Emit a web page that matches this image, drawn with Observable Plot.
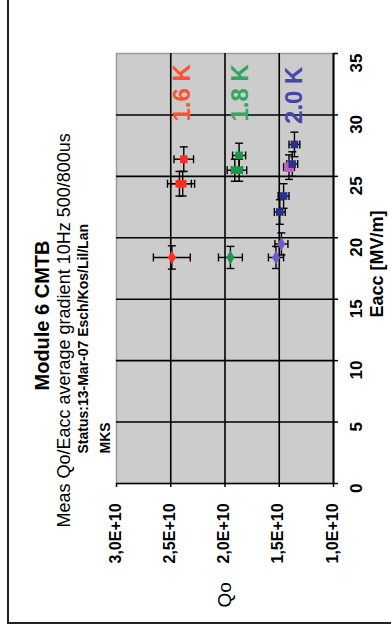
<!DOCTYPE html>
<html><head><meta charset="utf-8">
<script src="https://cdn.jsdelivr.net/npm/d3@7"></script>
<script src="https://cdn.jsdelivr.net/npm/@observablehq/plot@0.6"></script>
<style>
html,body{margin:0;padding:0;background:#fff;}
#wrap{position:relative;width:391px;height:639px;overflow:hidden;}
#border{position:absolute;left:7px;top:-4px;width:400px;height:626px;border-left:2px solid #222;border-bottom:2px solid #222;}
#chart{position:absolute;left:0;top:0;}
</style></head><body>
<div id="wrap"><div id="border"></div><div id="chart"></div></div>
<script>
// ---- texts ----
const titleMain = "Module 6 CMTB";
const titleSub = "Meas Qo/Eacc average gradient 10Hz 500/800us";
const titleStatus = "Status:13-Mar-07 Esch/Kos/Lil/Lan";
const titleOrg = "MKS";
const xTitle = "Qo";
const yTitle = "Eacc [MV/m]";

// ---- axes ----
const qoTicks = [1.0e10, 1.5e10, 2.0e10, 2.5e10, 3.0e10];
const qoTickLabels = ["1,0E+10", "1,5E+10", "2,0E+10", "2,5E+10", "3,0E+10"];
const eaccTicks = [0, 5, 10, 15, 20, 25, 30, 35];
const eaccTickLabels = ["0", "5", "10", "15", "20", "25", "30", "35"];

// ---- series labels ----
const seriesNames = ["1.6 K", "1.8 K", "2.0 K"];
const labelEacc = [31.8, 31.8, 31.6];
const labelQo = [2.39e10, 1.86e10, 1.36e10];

// ---- measured points ----
const pointSet = ["1.6 K","1.6 K","1.6 K","1.6 K",
                  "1.8 K","1.8 K","1.8 K","1.8 K",
                  "2.0 K a","2.0 K a","2.0 K","2.0 K","2.0 K b","2.0 K","2.0 K"];
const pointShape = ["diamond","square","square","square",
                    "diamond","square","square","square",
                    "diamond","diamond","square","square","square","square","square"];
const pointEacc = [18.4, 26.4, 24.4, 24.4,
                   18.4, 26.7, 25.5, 25.5,
                   18.4, 19.5, 22.1, 23.4, 25.75, 26.0, 27.6];
const pointQo = [2.49e10, 2.38e10, 2.42e10, 2.39e10,
                 1.95e10, 1.87e10, 1.91e10, 1.87e10,
                 1.53e10, 1.48e10, 1.495e10, 1.46e10, 1.41e10, 1.38e10, 1.36e10];
const errEacc = [0.95, 1.0, 1.0, 1.0,
                 0.9, 1.0, 0.9, 0.9,
                 0.9, 0.9, 1.0, 1.0, 1.0, 1.0, 1.0];
const errQo = [0.17e10, 0.09e10, 0.11e10, 0.11e10,
               0.11e10, 0.06e10, 0.07e10, 0.07e10,
               0.07e10, 0.06e10, 0.05e10, 0.05e10, 0.05e10, 0.05e10, 0.05e10];

const points = pointEacc.map((e, i) => ({
  set: pointSet[i], shape: pointShape[i], eacc: e, qo: pointQo[i], dE: errEacc[i], dQ: errQo[i]
}));
const labels = seriesNames.map((s, i) => ({name: s, eacc: labelEacc[i], qo: labelQo[i]}));

const setColors = {
  "1.6 K": "#ff2d1e", "1.8 K": "#179a48", "2.0 K": "#2b2f8e",
  "2.0 K a": "#7659c6", "2.0 K b": "#c25cc0"
};
const labelColors = {"1.6 K": "#ff5030", "1.8 K": "#2ea85a", "2.0 K": "#4548a8"};

const capV = {draw(ctx, size) { const r = Math.sqrt(size / Math.PI); ctx.moveTo(0, -r); ctx.lineTo(0, r); }};
const capH = {draw(ctx, size) { const r = Math.sqrt(size / Math.PI); ctx.moveTo(-r, 0); ctx.lineTo(r, 0); }};

const font = "'Liberation Sans', Arial, sans-serif";

const chart = Plot.plot({
  width: 391, height: 639,
  marginLeft: 116, marginRight: 58, marginTop: 53, marginBottom: 156,
  style: {background: "transparent", fontFamily: font, color: "#000"},
  x: {type: "linear", domain: [3.0e10, 1.0e10], label: null},
  y: {type: "linear", domain: [0, 35], label: null},
  marks: [
    Plot.frame({fill: "#cccccc", stroke: "#9a9a9a", strokeWidth: 1.5}),
    Plot.gridX(qoTicks.filter(d => d < 3.0e10), {stroke: "#000", strokeOpacity: 1, strokeWidth: 1.6}),
    Plot.gridY(eaccTicks.filter(d => d < 35), {stroke: "#000", strokeOpacity: 1, strokeWidth: 1.6}),
    Plot.ruleX([1.0e10], {stroke: "#000", strokeWidth: 1.6}),
    Plot.axisX(qoTicks, {anchor: "bottom", tickSize: 4, tickFormat: () => "",
      stroke: "#000", strokeWidth: 1.5, label: null}),
    Plot.axisY(eaccTicks, {anchor: "right", tickSize: 4, tickFormat: () => "",
      stroke: "#000", strokeWidth: 1.5, label: null}),
    // tick labels
    Plot.text(qoTicks, {x: d => d, text: (d, i) => qoTickLabels[i], frameAnchor: "bottom",
      dx: 4, dy: 80, rotate: -90, textAnchor: "start", fontSize: 16, fontWeight: "bold",
      fill: "#000", ariaLabel: "qo-tick-label"}),
    Plot.text(eaccTicks, {y: d => d, text: (d, i) => eaccTickLabels[i], frameAnchor: "right",
      dx: 23, rotate: -90, fontSize: 17, fontWeight: "bold", fill: "#000"}),
    // error bars
    Plot.link(points, {x1: d => d.qo - d.dQ, x2: d => d.qo + d.dQ, y1: "eacc", y2: "eacc", stroke: "#000", strokeWidth: 1.4}),
    Plot.link(points, {x1: "qo", x2: "qo", y1: d => d.eacc - d.dE, y2: d => d.eacc + d.dE, stroke: "#000", strokeWidth: 1.4}),
    Plot.dot(points, {x: d => d.qo - d.dQ, y: "eacc", symbol: capV, r: 4, stroke: "#000", strokeWidth: 1.4, fill: "none"}),
    Plot.dot(points, {x: d => d.qo + d.dQ, y: "eacc", symbol: capV, r: 4, stroke: "#000", strokeWidth: 1.4, fill: "none"}),
    Plot.dot(points, {x: "qo", y: d => d.eacc - d.dE, symbol: capH, r: 4, stroke: "#000", strokeWidth: 1.4, fill: "none"}),
    Plot.dot(points, {x: "qo", y: d => d.eacc + d.dE, symbol: capH, r: 4, stroke: "#000", strokeWidth: 1.4, fill: "none"}),
    // markers
    Plot.dot(points, {filter: d => d.shape === "diamond", x: "qo", y: "eacc", symbol: "diamond", r: 4.2,
      fill: d => setColors[d.set], stroke: "none"}),
    Plot.dot(points, {filter: d => d.shape === "square" && d.set === "2.0 K b", x: "qo", y: "eacc", symbol: "square", r: 5.5,
      fill: d => setColors[d.set], stroke: "none"}),
    Plot.dot(points, {filter: d => d.shape === "square" && d.set !== "2.0 K b", x: "qo", y: "eacc", symbol: "square", r: 4.3,
      fill: d => setColors[d.set], stroke: "none"}),
    // series labels
    Plot.text(labels, {x: "qo", y: "eacc", text: "name", rotate: -90, fontSize: 24, fontWeight: "bold",
      fill: d => labelColors[d.name]}),
    // titles (start-anchored: text runs upward from the anchor)
    Plot.text([titleMain], {text: d => d, frameAnchor: "left", dx: -74, dy: 122, rotate: -90, textAnchor: "start",
      fontSize: 20, fontWeight: "bold", fill: "#000", ariaLabel: "t-main"}),
    Plot.text([titleSub], {text: d => d, frameAnchor: "left", dx: -52.5, dy: 259, rotate: -90, textAnchor: "start",
      fontSize: 18, fill: "#000", ariaLabel: "t-sub"}),
    Plot.text([titleStatus], {text: d => d, frameAnchor: "left", dx: -32.5, dy: 185, rotate: -90, textAnchor: "start",
      fontSize: 14, fontWeight: "bold", fill: "#000", ariaLabel: "t-status"}),
    Plot.text([titleOrg], {text: d => d, frameAnchor: "left", dx: -11, dy: 185, rotate: -90, textAnchor: "start",
      fontSize: 14, fontWeight: "bold", fill: "#000", ariaLabel: "t-org"}),
    Plot.text([xTitle], {text: d => d, frameAnchor: "bottom", dx: 6, dy: 124, rotate: -90, textAnchor: "start",
      fontSize: 19, fill: "#000", ariaLabel: "t-x"}),
    Plot.text([yTitle], {text: d => d, frameAnchor: "right", dx: 43.5, dy: 49, rotate: -90, textAnchor: "start",
      fontSize: 18, fontWeight: "bold", fill: "#000", ariaLabel: "t-y"})
  ]
});
document.getElementById("chart").appendChild(chart);

function stretch(label, factor) {
  chart.querySelectorAll(`g[aria-label="${label}"] text`).forEach(t => {
    const w = t.getComputedTextLength();
    t.setAttribute("textLength", w * factor);
    t.setAttribute("lengthAdjust", "spacingAndGlyphs");
  });
}
stretch("t-main", 1.13);
stretch("t-sub", 1.24);
stretch("t-status", 1.33);
stretch("t-org", 1.29);
stretch("t-x", 1.2);
stretch("t-y", 1.1);
stretch("qo-tick-label", 1.22);
</script></body></html>
